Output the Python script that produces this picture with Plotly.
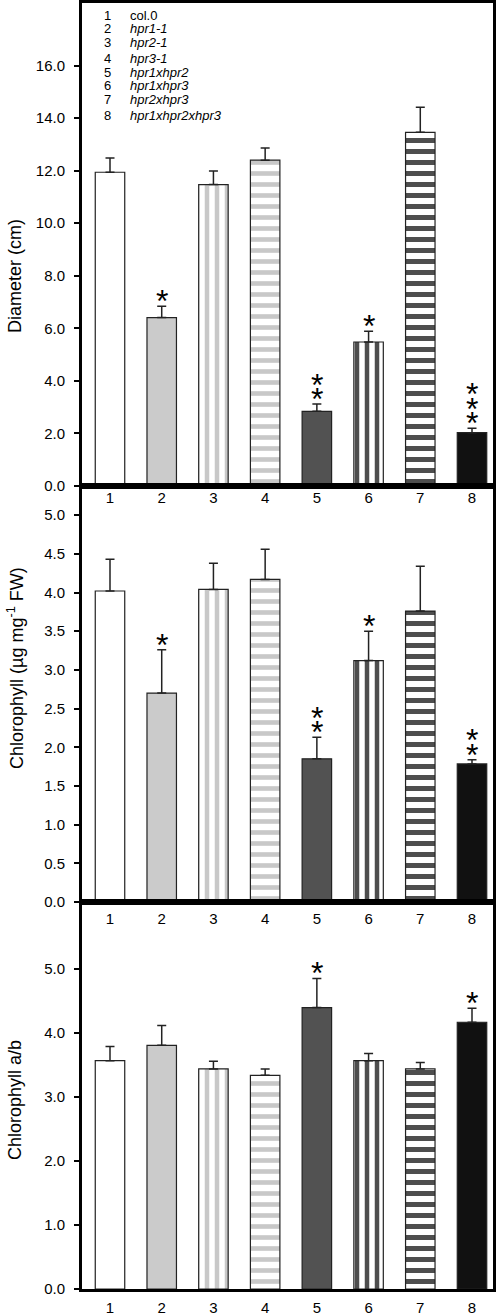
import plotly.graph_objects as go

# ---------------- data ----------------
positions = [1, 2, 3, 4, 5, 6, 7, 8]
tick_labels = ["1", "2", "3", "4", "5", "6", "7", "8"]
legend_names = ["col.0", "hpr1-1", "hpr2-1", "hpr3-1",
                "hpr1xhpr2", "hpr1xhpr3", "hpr2xhpr3", "hpr1xhpr2xhpr3"]

diameter = [11.94, 6.41, 11.47, 12.40, 2.84, 5.48, 13.46, 2.03]
diameter_err = [0.54, 0.43, 0.52, 0.46, 0.28, 0.41, 0.95, 0.17]
diameter_stars = [0, 1, 0, 0, 2, 1, 0, 3]

chlorophyll = [4.02, 2.70, 4.04, 4.17, 1.85, 3.12, 3.76, 1.785]
chlorophyll_err = [0.41, 0.56, 0.34, 0.39, 0.28, 0.38, 0.58, 0.055]
chlorophyll_stars = [0, 1, 0, 0, 2, 1, 0, 2]

ratio_ab = [3.57, 3.81, 3.44, 3.34, 4.40, 3.57, 3.44, 4.17]
ratio_ab_err = [0.22, 0.31, 0.12, 0.10, 0.455, 0.11, 0.10, 0.22]
ratio_ab_stars = [0, 0, 0, 0, 1, 0, 0, 1]

y_titles = ["Diameter (cm)", "Chlorophyll (µg mg<sup>-1</sup> FW)", "Chlorophyll a/b"]

# ---------------- styles ----------------
fill_colors = ["#ffffff", "#cbcbcb", "#ffffff", "#ffffff",
               "#525252", "#ffffff", "#ffffff", "#111111"]
pattern_shapes = ["", "", "|", "-", "", "|", "-", ""]
pattern_fg = ["#ffffff", "#cbcbcb", "#c8c8c8", "#c8c8c8",
              "#525252", "#4e4e4e", "#4e4e4e", "#111111"]
pattern_size = [10, 10, 10, 11, 10, 10, 11, 10]
pattern_solid = [0.45, 0.45, 0.45, 0.42, 0.45, 0.45, 0.45, 0.45]

FONT = "Liberation Sans, Arial, Helvetica, sans-serif"
W, H = 498, 1316
MT, MB, ML, MR = 3, 27, 82, 5
PLOT_H = H - MT - MB
BOTTOM_PX = H - MB


def py2paper(py):
    return (BOTTOM_PX - py) / PLOT_H


def px2paper(px):
    return (px - ML) / (W - ML - MR)


panels = [
    dict(vals=diameter, err=diameter_err, stars=diameter_stars,
         dom=[py2paper(486), 1.0], rng=[0, 18.38],
         tickvals=[0, 2, 4, 6, 8, 10, 12, 14, 16], fmt=".1f",
         title_py=276, xstand=-4),
    dict(vals=chlorophyll, err=chlorophyll_err, stars=chlorophyll_stars,
         dom=[py2paper(902), py2paper(486)], rng=[0, 5.377],
         tickvals=[0, 0.5, 1, 1.5, 2, 2.5, 3, 3.5, 4, 4.5, 5], fmt=".1f",
         title_py=668, xstand=1),
    dict(vals=ratio_ab, err=ratio_ab_err, stars=ratio_ab_stars,
         dom=[0.0, py2paper(902)], rng=[0, 6.05],
         tickvals=[0, 1, 2, 3, 4, 5], fmt=".1f",
         title_py=1100, xstand=3),
]

fig = go.Figure()
annotations = []
layout = dict(
    width=W, height=H,
    margin=dict(l=ML, r=MR, t=MT, b=MB, pad=0, autoexpand=False),
    paper_bgcolor="white", plot_bgcolor="white",
    showlegend=False,
    font=dict(family=FONT, color="black", size=15),
    barmode="overlay",
)

for i, p in enumerate(panels):
    n = i + 1
    xa = "x" if n == 1 else f"x{n}"
    ya = "y" if n == 1 else f"y{n}"
    for j in range(len(positions)):
        marker = dict(color=fill_colors[j],
                      line=dict(color="#222222", width=1.2))
        if pattern_shapes[j]:
            marker["pattern"] = dict(shape=pattern_shapes[j],
                                     fgcolor=pattern_fg[j],
                                     bgcolor=fill_colors[j],
                                     size=pattern_size[j],
                                     solidity=pattern_solid[j],
                                     fillmode="replace")
        fig.add_trace(go.Bar(
            x=[positions[j]], y=[p["vals"][j]], width=0.57,
            xaxis=xa, yaxis=ya, marker=marker,
            error_y=dict(type="data", symmetric=False, array=[p["err"][j]],
                         arrayminus=[0], color="#222222",
                         thickness=1.5, width=4.5),
            hoverinfo="skip",
        ))
    layout["xaxis" if n == 1 else f"xaxis{n}"] = dict(
        domain=[0, 1], anchor=ya, range=[0.4585, 8.406],
        tickmode="array", tickvals=positions, ticktext=tick_labels,
        ticks="", showgrid=False, zeroline=False,
        showline=True, linecolor="black", linewidth=3, mirror=True,
        tickfont=dict(size=15, family=FONT, color="black"),
        ticklabelstandoff=p["xstand"], fixedrange=True, automargin=False,
    )
    layout["yaxis" if n == 1 else f"yaxis{n}"] = dict(
        domain=p["dom"], anchor=xa, range=p["rng"],
        tickmode="array", tickvals=p["tickvals"],
        ticktext=[format(v, p["fmt"]) for v in p["tickvals"]],
        ticks="outside", ticklen=5, tickwidth=2, tickcolor="black",
        showgrid=False, zeroline=False,
        showline=True, linecolor="black", linewidth=3, mirror=True,
        tickfont=dict(size=15, family=FONT, color="black"),
        ticklabelstandoff=6, fixedrange=True, automargin=False,
    )
    # significance stars
    for j, k in enumerate(p["stars"]):
        for s in range(k):
            annotations.append(dict(
                x=positions[j], y=p["vals"][j] + p["err"][j],
                xref=xa, yref=ya, text="*", showarrow=False,
                xanchor="center", yanchor="middle",
                yshift=5 + 14.5 * s,
                font=dict(size=32, family=FONT, color="black"),
            ))
    # y-axis title
    annotations.append(dict(
        x=px2paper(15), y=py2paper(p["title_py"]), xref="paper", yref="paper",
        text=y_titles[i], textangle=-90, showarrow=False,
        xanchor="center", yanchor="middle",
        font=dict(size=18, family=FONT, color="black"),
    ))

# legend text block inside the top panel
legend_rows_py = [15, 29, 43, 58, 72, 86, 100, 115]
for j, name in enumerate(legend_names):
    annotations.append(dict(
        x=px2paper(107), y=py2paper(legend_rows_py[j]), xref="paper", yref="paper",
        text=tick_labels[j], showarrow=False, xanchor="center", yanchor="middle",
        font=dict(size=13, family=FONT, color="black"),
    ))
    label = name if j == 0 else f"<i>{name}</i>"
    annotations.append(dict(
        x=px2paper(128), y=py2paper(legend_rows_py[j]), xref="paper", yref="paper",
        text=label, showarrow=False, xanchor="left", yanchor="middle",
        font=dict(size=13, family=FONT, color="black"),
    ))

layout["annotations"] = annotations
fig.update_layout(**layout)
fig.write_html(
    "out.html",
    config={"displayModeBar": False},
    post_script="document.body.style.margin='0';document.body.style.overflow='hidden';",
)
